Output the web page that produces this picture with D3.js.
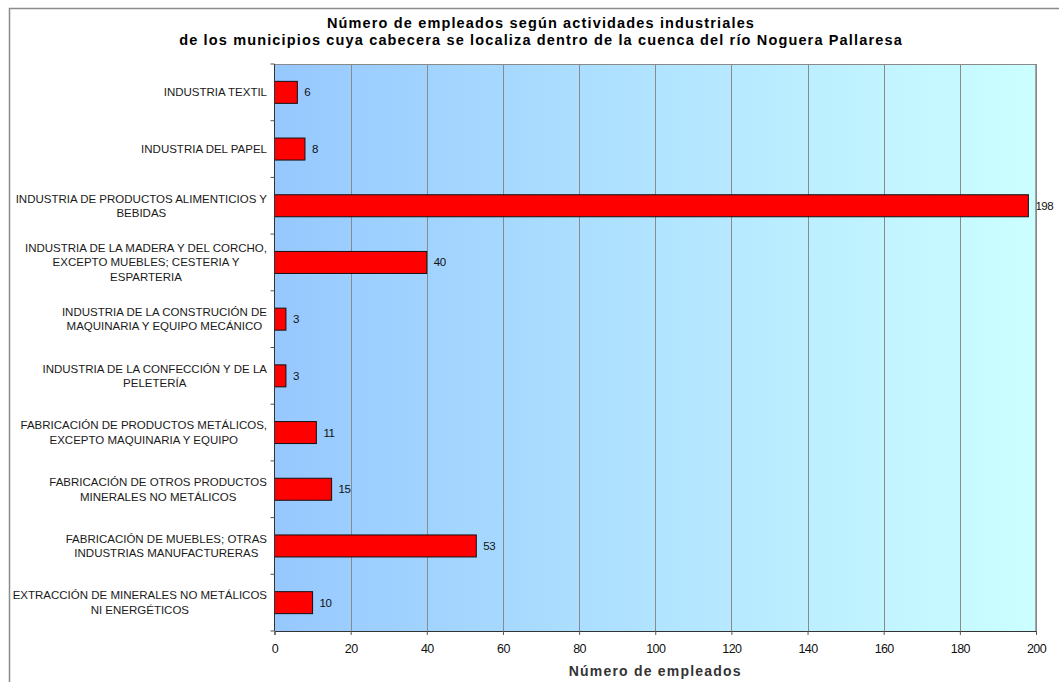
<!DOCTYPE html>
<html>
<head>
<meta charset="utf-8">
<script src="https://cdn.jsdelivr.net/npm/d3@7"></script>
<style>
  body { margin: 0; background: #fff; }
  svg { display: block; font-family: Arial, "Liberation Sans", sans-serif; }
</style>
</head>
<body>
<div id="chart"></div>
<script>
// categories, top to bottom (line breaks as in the original)
const categories = [
  ["INDUSTRIA TEXTIL"],
  ["INDUSTRIA DEL PAPEL"],
  ["INDUSTRIA DE PRODUCTOS ALIMENTICIOS Y", "BEBIDAS"],
  ["INDUSTRIA DE LA MADERA Y DEL CORCHO,", "EXCEPTO MUEBLES; CESTERIA Y", "ESPARTERIA"],
  ["INDUSTRIA DE LA CONSTRUCIÓN DE", "MAQUINARIA Y EQUIPO MECÁNICO"],
  ["INDUSTRIA DE LA CONFECCIÓN Y DE LA", "PELETERÍA"],
  ["FABRICACIÓN DE PRODUCTOS METÁLICOS,", "EXCEPTO MAQUINARIA Y EQUIPO"],
  ["FABRICACIÓN DE OTROS PRODUCTOS", "MINERALES NO METÁLICOS"],
  ["FABRICACIÓN DE MUEBLES; OTRAS", "INDUSTRIAS MANUFACTURERAS"],
  ["EXTRACCIÓN DE MINERALES NO METÁLICOS", "NI ENERGÉTICOS"]
]
const empleados = [6, 8, 198, 40, 3, 3, 11, 15, 53, 10]
const xTicks = [0, 20, 40, 60, 80, 100, 120, 140, 160, 180, 200]
const titleLines = [
  "Número de empleados según actividades industriales",
  "de los municipios cuya cabecera se localiza dentro de la cuenca del río Noguera Pallaresa"
]
const xTitle = "Número de empleados"

const width = 1059, height = 682
const margin = {top: 64, right: 23, bottom: 51, left: 274.5}

const svg = d3.select('#chart').append('svg')
  .attr('width', width)
  .attr('height', height)

// outer chart frame (runs off the right and bottom edges)
svg.append('rect')
  .attr('x', 9.5).attr('y', 8.5)
  .attr('width', 1066).attr('height', 700)
  .attr('fill', '#fff')
  .attr('stroke', '#8c8c8c')
  .attr('stroke-width', 1.5)

const x = d3.scaleLinear()
  .domain([0, 200])
  .range([margin.left, width - margin.right])

const y = d3.scaleBand()
  .domain(d3.range(categories.length))
  .range([margin.top, height - margin.bottom])

const barH = 22

// gradient background
const defs = svg.append('defs')
const grad = defs.append('linearGradient')
  .attr('id', 'bg')
  .attr('x1', '0%').attr('x2', '100%')
  .attr('y1', '0%').attr('y2', '0%')
grad.append('stop').attr('offset', '0%').attr('stop-color', '#96c8ff')
grad.append('stop').attr('offset', '100%').attr('stop-color', '#ccffff')

svg.append('rect')
  .attr('x', x(0)).attr('y', margin.top)
  .attr('width', x(200) - x(0))
  .attr('height', y.range()[1] - margin.top)
  .attr('fill', 'url(#bg)')

// gridlines
svg.append('g')
  .selectAll('line')
  .data(xTicks.slice(1))
  .join('line')
  .attr('x1', d => Math.round(x(d)) + 0.5)
  .attr('x2', d => Math.round(x(d)) + 0.5)
  .attr('y1', margin.top)
  .attr('y2', y.range()[1])
  .attr('stroke', '#8a8a8a')
  .attr('stroke-width', 1)

// top border of plot
svg.append('line')
  .attr('x1', x(0)).attr('x2', x(200))
  .attr('y1', margin.top + 0.5).attr('y2', margin.top + 0.5)
  .attr('stroke', '#8a8a8a')

// bars
svg.append('g')
  .selectAll('rect')
  .data(empleados)
  .join('rect')
  .attr('x', x(0))
  .attr('y', (d, i) => y(i) + y.bandwidth() / 2 - barH / 2)
  .attr('width', d => x(d) - x(0))
  .attr('height', barH)
  .attr('fill', '#ff0000')
  .attr('stroke', '#111')
  .attr('stroke-width', 1)

// value labels
svg.append('g')
  .selectAll('text')
  .data(empleados)
  .join('text')
  .attr('x', d => x(d) + 7)
  .attr('y', (d, i) => y(i) + y.bandwidth() / 2 + 4)
  .attr('font-size', 11.5)
  .attr('letter-spacing', -0.5)
  .attr('fill', '#111')
  .text(d => d)

// x axis
const xAxisG = svg.append('g')
  .attr('transform', `translate(0,${y.range()[1]})`)
xAxisG.call(d3.axisBottom(x).tickValues(d3.range(0, 201, 4)).tickSize(4).tickFormat(''))
xAxisG.call(d3.axisBottom(x).tickValues(xTicks).tickSize(4).tickPadding(9))
xAxisG.selectAll('.domain').attr('stroke', '#333')
xAxisG.selectAll('.tick line').attr('stroke', '#555')
xAxisG.selectAll('text')
  .attr('font-size', 12.5)
  .attr('font-family', 'Arial, "Liberation Sans", sans-serif')
  .attr('fill', '#111')
  .attr('letter-spacing', -0.6)

// right border of plot (drawn after axis so it sits on top)
svg.append('line')
  .attr('x1', x(200)).attr('x2', x(200))
  .attr('y1', margin.top).attr('y2', y.range()[1])
  .attr('stroke', '#8a8a8a')
  .attr('stroke-width', 1.5)

// y axis: line + ticks at category boundaries
const yAxisG = svg.append('g')
yAxisG.append('line')
  .attr('x1', x(0)).attr('x2', x(0))
  .attr('y1', margin.top).attr('y2', y.range()[1])
  .attr('stroke', '#333')
yAxisG.selectAll('.ytick')
  .data(d3.range(categories.length + 1))
  .join('line')
  .attr('class', 'ytick')
  .attr('x1', x(0) - 4).attr('x2', x(0))
  .attr('y1', i => i < categories.length ? y(i) : y.range()[1])
  .attr('y2', i => i < categories.length ? y(i) : y.range()[1])
  .attr('stroke', '#555')

// category labels: centred block, widest line ending at x = 267
const lineH = 14.5
const labelRight = 267
const labelG = svg.append('g')
categories.forEach((lines, i) => {
  const t = labelG.append('text')
    .attr('font-size', 11.5)
    .attr('fill', '#1a1a1a')
    .attr('text-anchor', 'middle')
  const cy = y(i) + y.bandwidth() / 2
  const y0 = cy - (lines.length - 1) * lineH / 2 + 4
  lines.forEach((l, k) => {
    t.append('tspan').attr('x', 0).attr('y', y0 + k * lineH).text(l)
  })
  let maxW = 0
  t.selectAll('tspan').each(function () {
    maxW = Math.max(maxW, this.getComputedTextLength())
  })
  t.selectAll('tspan').attr('x', labelRight - maxW / 2)
})

// title
svg.append('g')
  .selectAll('text')
  .data(titleLines)
  .join('text')
  .attr('x', 541)
  .attr('y', (d, i) => 28 + i * 17)
  .attr('text-anchor', 'middle')
  .attr('font-size', 14.5)
  .attr('letter-spacing', 1.15)
  .attr('font-weight', 'bold')
  .attr('fill', '#000')
  .text(d => d)

// x axis title
svg.append('text')
  .attr('x', (x(0) + x(200)) / 2)
  .attr('y', 676)
  .attr('text-anchor', 'middle')
  .attr('font-size', 14)
  .attr('font-weight', 'bold')
  .attr('letter-spacing', 1.2)
  .attr('fill', '#333')
  .text(xTitle)
</script>
</body>
</html>
